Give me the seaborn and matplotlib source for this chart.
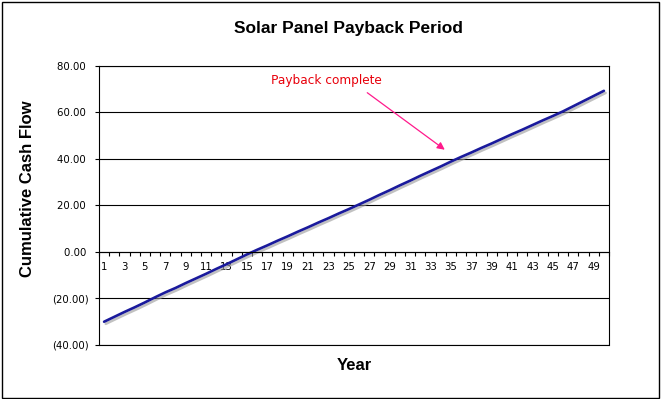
import pandas as pd
import matplotlib
matplotlib.use("Agg")
import matplotlib.pyplot as plt
import matplotlib.patheffects as pe
from matplotlib.patches import Rectangle
from matplotlib.ticker import FixedLocator, FuncFormatter
import seaborn as sns

# Cumulative cash flow per year
years = list(range(1, 51))
cash_flow = [-30.0, -27.9, -25.8, -23.8, -21.7, -19.5, -17.4, -15.5, -13.4, -11.4,
             -9.4, -7.3, -5.3, -3.2, -1.1, 0.9, 2.8, 4.8, 6.7, 8.7,
             10.6, 12.6, 14.5, 16.5, 18.4, 20.4, 22.4, 24.5, 26.5, 28.6,
             30.6, 32.7, 34.7, 36.7, 38.8, 40.8, 42.7, 44.7, 46.6, 48.6,
             50.6, 52.5, 54.5, 56.5, 58.4, 60.4, 62.6, 64.8, 67.0, 69.2]
y_ticks = [-40, -20, 0, 20, 40, 60, 80]
x_ticks = list(range(1, 50, 2))

df = pd.DataFrame({"Year": years, "Cumulative Cash Flow": cash_flow})

sns.set_style("white")
plt.rcParams["font.family"] = ["DejaVu Sans"]
plt.rcParams["text.color"] = "black"
plt.rcParams["xtick.color"] = "black"
plt.rcParams["ytick.color"] = "black"
plt.rcParams["axes.labelcolor"] = "black"

fig = plt.figure(figsize=(6.61, 3.99), dpi=100)
ax = fig.add_axes([99 / 661, 1 - 345 / 399, 510 / 661, (345 - 65.7) / 399])

sns.lineplot(data=df, x="Year", y="Cumulative Cash Flow", ax=ax,
             color="#1a1a9c", linewidth=1.9,
             path_effects=[pe.SimpleLineShadow(offset=(1.2, -1.5), shadow_color="#999999", alpha=0.6),
                           pe.Normal()])

ax.set_xlim(0.5, 50.5)
ax.set_ylim(-40, 80)

# horizontal gridlines
ax.yaxis.set_major_locator(FixedLocator(y_ticks))
ax.yaxis.grid(True, color="black", linewidth=0.8)
ax.set_axisbelow(True)

def money(v, pos):
    if v < 0:
        return "({:.2f})".format(-v)
    return "{:.2f} ".format(v)

ax.yaxis.set_major_formatter(FuncFormatter(money))
ax.tick_params(axis="y", which="major", direction="out", length=3, width=0.8,
               pad=4, labelsize=7.3, left=True, color="black", labelcolor="black")

# category axis crossing at zero
ax.spines["bottom"].set_position(("data", 0))
for s in ax.spines.values():
    s.set_color("black")
    s.set_linewidth(0.8)
ax.xaxis.set_major_locator(FixedLocator(x_ticks))
ax.xaxis.set_minor_locator(FixedLocator([v + 0.5 for v in range(0, 51)]))
ax.tick_params(axis="x", which="major", length=0, pad=7, labelsize=7.3, labelcolor="black")
ax.tick_params(axis="x", which="minor", direction="out", length=3, width=0.8,
               bottom=True, color="black")
ax.axhline(-40, color="black", linewidth=0.8, clip_on=False)

ax.set_xlabel("")
ax.set_ylabel("")
fig.text(354 / 661, 1 - 365 / 399, "Year", ha="center", va="center", color="black",
         fontsize=12, fontweight="bold", family="Liberation Sans")
fig.text(28 / 661, 1 - 189 / 399, "Cumulative Cash Flow", ha="center", va="center",
         rotation=90, fontsize=12, fontweight="bold", family="Liberation Sans", color="black")
fig.text(348 / 661, 1 - 28 / 399, "Solar Panel Payback Period", ha="center", va="center",
         fontsize=12.5, fontweight="bold", family="Liberation Sans", color="black")

# annotation
ax.text(22.8, 73.5, "Payback complete", color="#e8000b", fontsize=8.7,
        ha="center", va="center")
ax.annotate("", xy=(34.4, 43.9), xytext=(26.8, 68.4),
            arrowprops=dict(arrowstyle="-|>", color="#ff1a8c", lw=0.9,
                            mutation_scale=11, shrinkA=0, shrinkB=0))

# outer frame
fig.patches.append(Rectangle((1.5 / 661, 1.5 / 399), 657 / 661, 396 / 399,
                             transform=fig.transFigure, fill=False,
                             edgecolor="black", linewidth=1))

fig.savefig("out.png", dpi=100)
